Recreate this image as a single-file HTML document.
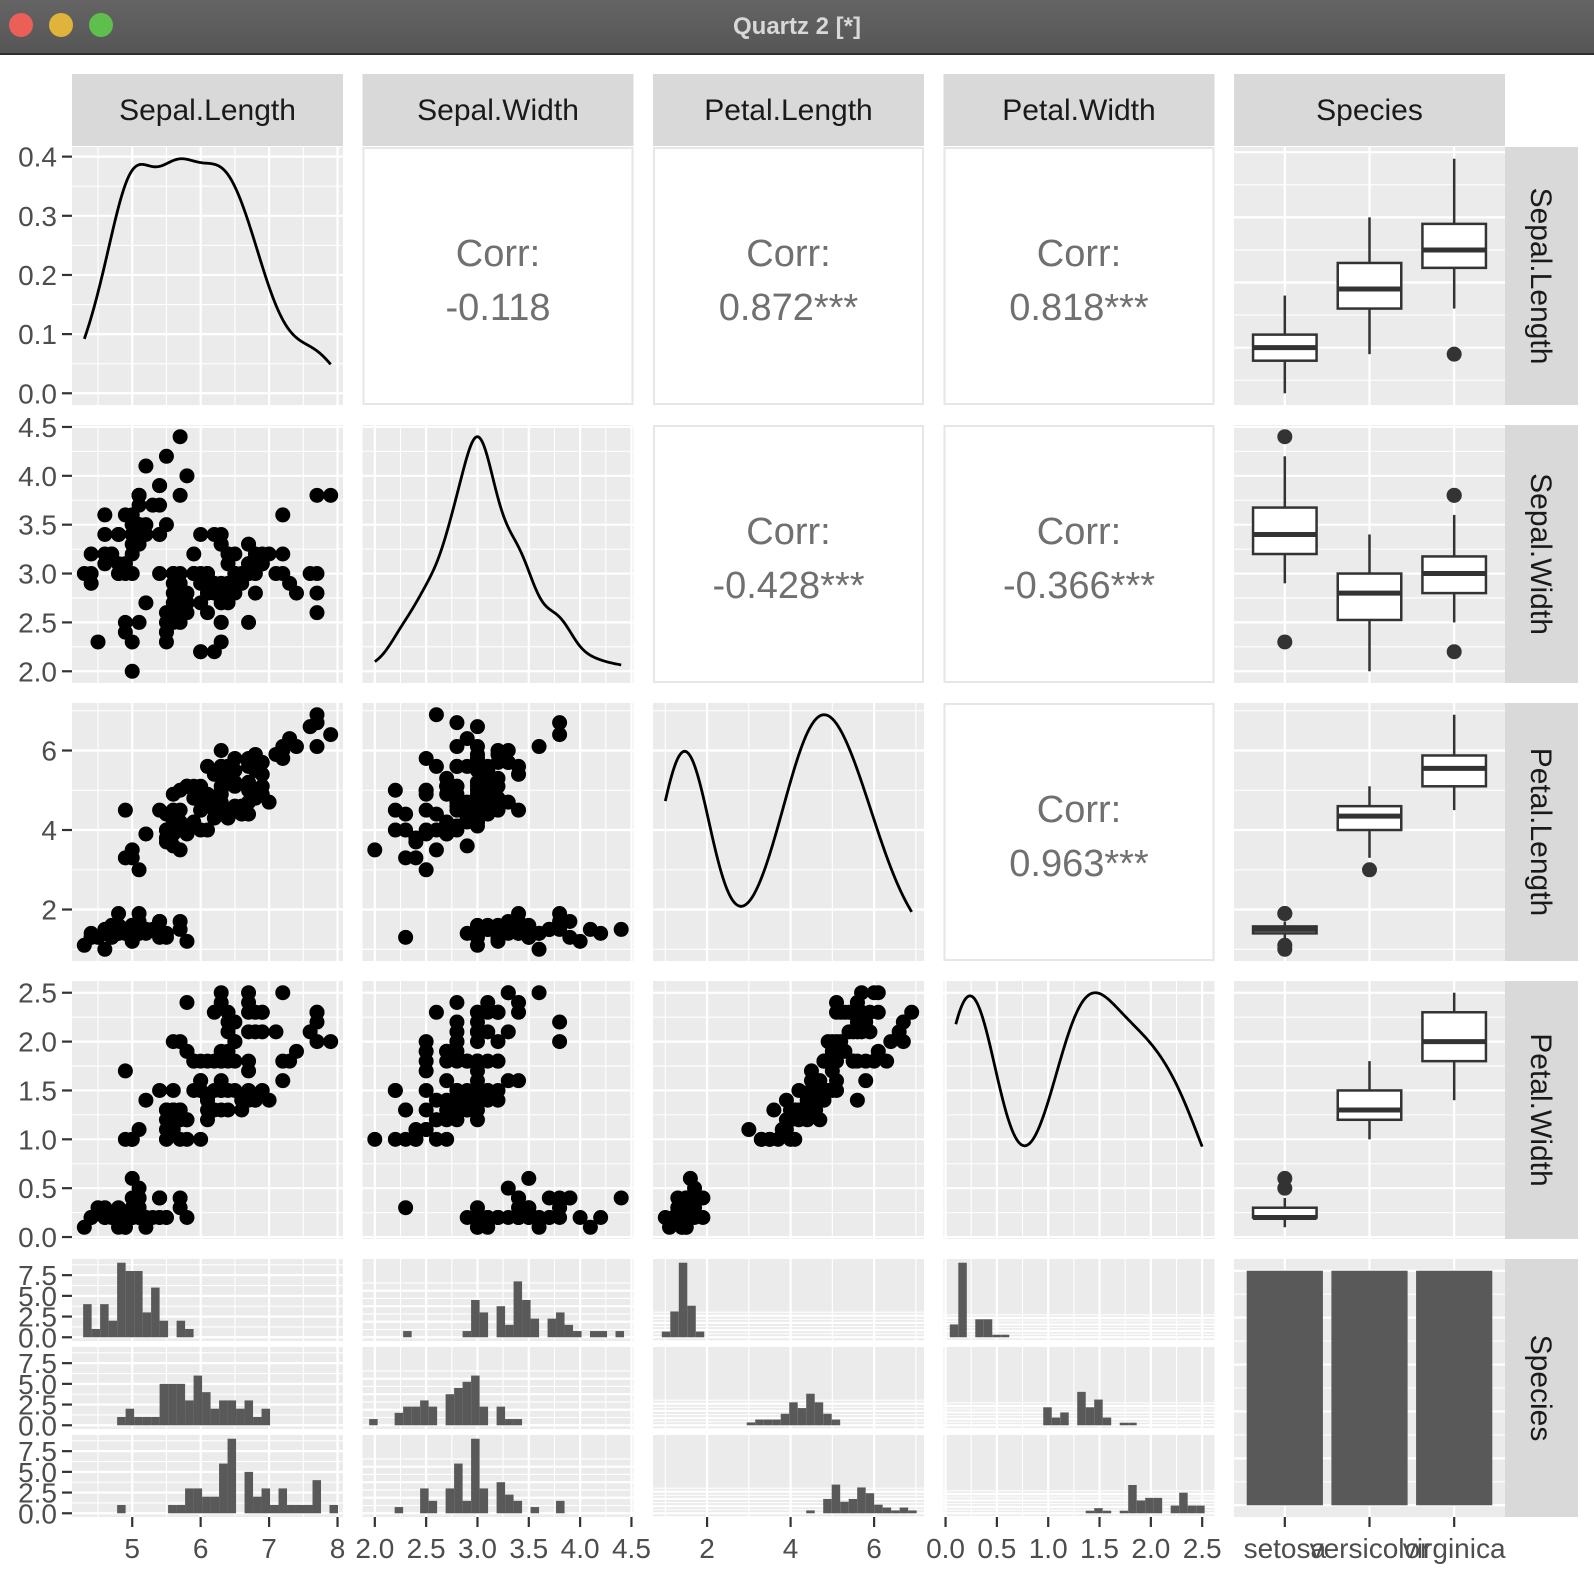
<!DOCTYPE html>
<html><head><meta charset="utf-8"><style>
body{margin:0;background:#fff;}
svg{display:block;font-family:"Liberation Sans",Arial,sans-serif;}
</style></head><body>
<svg id="chart" width="1594" height="1576" viewBox="0 0 1594 1576" xmlns="http://www.w3.org/2000/svg">
<defs><linearGradient id="tb" x1="0" y1="0" x2="0" y2="1"><stop offset="0" stop-color="#646464"/><stop offset="1" stop-color="#565656"/></linearGradient></defs>
<g>
<rect x="0" y="0" width="1594" height="53" fill="url(#tb)"/>
<rect x="0" y="53" width="1594" height="2" fill="#2e2e2e"/>
<circle cx="21" cy="25" r="12" fill="#ec5f57"/>
<circle cx="61" cy="25" r="12" fill="#e0b43a"/>
<circle cx="101" cy="25" r="12" fill="#5fbf4c"/>
<text x="797" y="34" text-anchor="middle" font-size="24" font-weight="bold" fill="#d8d8d8">Quartz 2 [*]</text>
</g>
<g id="plot"></g>
</svg>
<script>
const varNames = ["Sepal.Length","Sepal.Width","Petal.Length","Petal.Width","Species"];
const speciesNames = ["setosa","versicolor","virginica"];
const sepalLength = [5.1,4.9,4.7,4.6,5.0,5.4,4.6,5.0,4.4,4.9,5.4,4.8,4.8,4.3,5.8,5.7,5.4,5.1,5.7,5.1,5.4,5.1,4.6,5.1,4.8,5.0,5.0,5.2,5.2,4.7,4.8,5.4,5.2,5.5,4.9,5.0,5.5,4.9,4.4,5.1,5.0,4.5,4.4,5.0,5.1,4.8,5.1,4.6,5.3,5.0,
7.0,6.4,6.9,5.5,6.5,5.7,6.3,4.9,6.6,5.2,5.0,5.9,6.0,6.1,5.6,6.7,5.6,5.8,6.2,5.6,5.9,6.1,6.3,6.1,6.4,6.6,6.8,6.7,6.0,5.7,5.5,5.5,5.8,6.0,5.4,6.0,6.7,6.3,5.6,5.5,5.5,6.1,5.8,5.0,5.6,5.7,5.7,6.2,5.1,5.7,
6.3,5.8,7.1,6.3,6.5,7.6,4.9,7.3,6.7,7.2,6.5,6.4,6.8,5.7,5.8,6.4,6.5,7.7,7.7,6.0,6.9,5.6,7.7,6.3,6.7,7.2,6.2,6.1,6.4,7.2,7.4,7.9,6.4,6.3,6.1,7.7,6.3,6.4,6.0,6.9,6.7,6.9,5.8,6.8,6.7,6.7,6.3,6.5,6.2,5.9];
const sepalWidth = [3.5,3.0,3.2,3.1,3.6,3.9,3.4,3.4,2.9,3.1,3.7,3.4,3.0,3.0,4.0,4.4,3.9,3.5,3.8,3.8,3.4,3.7,3.6,3.3,3.4,3.0,3.4,3.5,3.4,3.2,3.1,3.4,4.1,4.2,3.1,3.2,3.5,3.6,3.0,3.4,3.5,2.3,3.2,3.5,3.8,3.0,3.8,3.2,3.7,3.3,
3.2,3.2,3.1,2.3,2.8,2.8,3.3,2.4,2.9,2.7,2.0,3.0,2.2,2.9,2.9,3.1,3.0,2.7,2.2,2.5,3.2,2.8,2.5,2.8,2.9,3.0,2.8,3.0,2.9,2.6,2.4,2.4,2.7,2.7,3.0,3.4,3.1,2.3,3.0,2.5,2.6,3.0,2.6,2.3,2.7,3.0,2.9,2.9,2.5,2.8,
3.3,2.7,3.0,2.9,3.0,3.0,2.5,2.9,2.5,3.6,3.2,2.7,3.0,2.5,2.8,3.2,3.0,3.8,2.6,2.2,3.2,2.8,2.8,2.7,3.3,3.2,2.8,3.0,2.8,3.0,2.8,3.8,2.8,2.8,2.6,3.0,3.4,3.1,3.0,3.1,3.1,3.1,2.7,3.2,3.3,3.0,2.5,3.0,3.4,3.0];
const petalLength = [1.4,1.4,1.3,1.5,1.4,1.7,1.4,1.5,1.4,1.5,1.5,1.6,1.4,1.1,1.2,1.5,1.3,1.4,1.7,1.5,1.7,1.5,1.0,1.7,1.9,1.6,1.6,1.5,1.4,1.6,1.6,1.5,1.5,1.4,1.5,1.2,1.3,1.4,1.3,1.5,1.3,1.3,1.3,1.6,1.9,1.4,1.6,1.4,1.5,1.4,
4.7,4.5,4.9,4.0,4.6,4.5,4.7,3.3,4.6,3.9,3.5,4.2,4.0,4.7,3.6,4.4,4.5,4.1,4.5,3.9,4.8,4.0,4.9,4.7,4.3,4.4,4.8,5.0,4.5,3.5,3.8,3.7,3.9,5.1,4.5,4.5,4.7,4.4,4.1,4.0,4.4,4.6,4.0,3.3,4.2,4.2,4.2,4.3,3.0,4.1,
6.0,5.1,5.9,5.6,5.8,6.6,4.5,6.3,5.8,6.1,5.1,5.3,5.5,5.0,5.1,5.3,5.5,6.7,6.9,5.0,5.7,4.9,6.7,4.9,5.7,6.0,4.8,4.9,5.6,5.8,6.1,6.4,5.6,5.1,5.6,6.1,5.6,5.5,4.8,5.4,5.6,5.1,5.1,5.9,5.7,5.2,5.0,5.2,5.4,5.1];
const petalWidth = [0.2,0.2,0.2,0.2,0.2,0.4,0.3,0.2,0.2,0.1,0.2,0.2,0.1,0.1,0.2,0.4,0.4,0.3,0.3,0.3,0.2,0.4,0.2,0.5,0.2,0.2,0.4,0.2,0.2,0.2,0.2,0.4,0.1,0.2,0.2,0.2,0.2,0.1,0.2,0.2,0.3,0.3,0.2,0.6,0.4,0.3,0.2,0.2,0.2,0.2,
1.4,1.5,1.5,1.3,1.5,1.3,1.6,1.0,1.3,1.4,1.0,1.5,1.0,1.4,1.3,1.4,1.5,1.0,1.5,1.1,1.8,1.3,1.5,1.2,1.3,1.4,1.4,1.7,1.5,1.0,1.1,1.0,1.2,1.6,1.5,1.6,1.5,1.3,1.3,1.3,1.2,1.4,1.2,1.0,1.3,1.2,1.3,1.3,1.1,1.3,
2.5,1.9,2.1,1.8,2.2,2.1,1.7,1.8,1.8,2.5,2.0,1.9,2.1,2.0,2.4,2.3,1.8,2.2,2.3,1.5,2.3,2.0,2.0,1.8,2.1,1.8,1.8,1.8,2.1,1.6,1.9,2.0,2.2,1.5,1.4,2.3,2.4,1.8,1.8,2.1,2.4,2.3,1.9,2.3,2.5,2.3,1.9,2.0,2.3,1.8];
const corrLabels = [["","-0.118","0.872***","0.818***"],["","","-0.428***","-0.366***"],["","","","0.963***"]];
const tickLabels = [["5","6","7","8"],["2.0","2.5","3.0","3.5","4.0","4.5"],["2","4","6"],["0.0","0.5","1.0","1.5","2.0","2.5"]];
const tickValues = [[5,6,7,8],[2,2.5,3,3.5,4,4.5],[2,4,6],[0,0.5,1,1.5,2,2.5]];
const densityTicks = [0,0.1,0.2,0.3,0.4];
const densityTickLabels = ["0.0","0.1","0.2","0.3","0.4"];
const countTicks = [0,2.5,5,7.5];
const countTickLabels = ["0.0","2.5","5.0","7.5"];
const speciesCounts = [50,50,50];

const vars = [sepalLength, sepalWidth, petalLength, petalWidth];
const NS = "http://www.w3.org/2000/svg";
const root = document.getElementById("plot");
const X0 = 72, PW_ = 271, GX = 290.5, Y0 = 147, PH = 258, GY = 278;
const colL = i => X0 + i*GX, rowT = j => Y0 + j*GY;
const GREY="#ebebeb", DARK="#333333", LAB="#4d4d4d";

function mk(tag, attrs, parent){const e=document.createElementNS(NS,tag);for(const k in attrs)e.setAttribute(k,attrs[k]);(parent||root).appendChild(e);return e;}
function contScale(data,a,b){const lo=Math.min(...data),hi=Math.max(...data),r=hi-lo;const d0=lo-0.05*r,d1=hi+0.05*r;const f=v=>a+(v-d0)/(d1-d0)*(b-a);f.d0=d0;f.d1=d1;return f;}
function rangeScale(lo,hi,a,b){const r=hi-lo;const d0=lo-0.05*r,d1=hi+0.05*r;const f=v=>a+(v-d0)/(d1-d0)*(b-a);f.d0=d0;f.d1=d1;return f;}
function minorsOf(maj,sc){const st=maj[1]-maj[0];const m=[maj[0]-st/2];maj.forEach(v=>m.push(v+st/2));return m.filter(v=>v>=Math.min(sc.d0,sc.d1)&&v<=Math.max(sc.d0,sc.d1));}
function inDom(vals,sc){return vals.filter(v=>v>=Math.min(sc.d0,sc.d1)-1e-9&&v<=Math.max(sc.d0,sc.d1)+1e-9);}
function panelBg(x,y,w,h,g){const r=mk("rect",{x:x,y:y,width:w,height:h,fill:GREY},g);}
function hGrid(g,sc,maj,x,w){minorsOf(maj,sc).forEach(v=>mk("line",{x1:x,x2:x+w,y1:sc(v),y2:sc(v),stroke:"#fff","stroke-width":1.1},g));inDom(maj,sc).forEach(v=>mk("line",{x1:x,x2:x+w,y1:sc(v),y2:sc(v),stroke:"#fff","stroke-width":2.2},g));}
function vGrid(g,sc,maj,y,h){minorsOf(maj,sc).forEach(v=>mk("line",{y1:y,y2:y+h,x1:sc(v),x2:sc(v),stroke:"#fff","stroke-width":1.1},g));inDom(maj,sc).forEach(v=>mk("line",{y1:y,y2:y+h,x1:sc(v),x2:sc(v),stroke:"#fff","stroke-width":2.2},g));}
function quant(s,p){const h=(s.length-1)*p,l=Math.floor(h);return s[l]+(h-l)*((s[Math.min(l+1,s.length-1)])-s[l]);}
function kde(d){const n=d.length,m=d.reduce((a,b)=>a+b)/n;const sd=Math.sqrt(d.reduce((a,b)=>a+(b-m)*(b-m),0)/(n-1));const s=[...d].sort((a,b)=>a-b);const iqr=quant(s,0.75)-quant(s,0.25);const bw=0.9*Math.min(sd,iqr/1.34)*Math.pow(n,-0.2);const lo=s[0],hi=s[n-1];const pts=[];for(let i=0;i<=200;i++){const x=lo+(hi-lo)*i/200;let y=0;for(const v of d){const z=(x-v)/bw;y+=Math.exp(-0.5*z*z);}pts.push([x,y/(n*bw*Math.sqrt(2*Math.PI))]);}return pts;}
function groupOf(arr,k){return arr.slice(k*50,k*50+50);}

const xScales = vars.map((d,i)=>contScale(d,colL(i),colL(i)+PW_));
const yScales = vars.map((d,j)=>contScale(d,rowT(j)+PH,rowT(j)));
const spX = i => k => colL(i)+(k+0.6)*PW_/3.2;

// strips
varNames.forEach((nm,i)=>{const g=mk("g",{});
mk("rect",{x:colL(i),y:74,width:PW_,height:72,fill:"#d9d9d9"},g);const t=mk("text",{x:colL(i)+PW_/2,y:120,"text-anchor":"middle","font-size":30,fill:"#1a1a1a"},g);t.textContent=nm;
const g2=mk("g",{});
mk("rect",{x:1505,y:rowT(i),width:73,height:PH,fill:"#d9d9d9"},g2);const cy=rowT(i)+PH/2;const t2=mk("text",{x:1531,y:cy,"text-anchor":"middle","font-size":30,fill:"#1a1a1a",transform:`rotate(90 1531 ${cy})`},g2);t2.textContent=nm;});

// panels
for(let j=0;j<5;j++){for(let i=0;i<5;i++){
 const g=mk("g",{});
 const x=colL(i),y=rowT(j);
 if(j<4&&i<4&&i>j){ // correlation
  mk("rect",{x:x+1,y:y+1,width:PW_-2,height:PH-2,fill:"#fff",stroke:"#e6e6e6","stroke-width":2},g);
  const t1=mk("text",{x:x+PW_/2,y:y+PH/2-10,"text-anchor":"middle","font-size":38,fill:"#707070"},g);t1.textContent="Corr:";
  
  const t2=mk("text",{x:x+PW_/2,y:y+PH/2+44,"text-anchor":"middle","font-size":38,fill:"#707070"},g);t2.textContent=corrLabels[j][i];
  
 } else if(j<4&&i===j){ // density
  panelBg(x,y,PW_,PH,g);
  const pts=kde(vars[i]);const mx=Math.max(...pts.map(p=>p[1]));
  const dy=rangeScale(0,mx,y+PH,y);
  vGrid(g,xScales[i],tickValues[i],y,PH);
  if(j===0) hGrid(g,dy,densityTicks,x,PW_); else hGrid(g,yScales[j],tickValues[j],x,PW_);
  const p=mk("path",{d:pts.map((q,k)=>(k?"L":"M")+xScales[i](q[0]).toFixed(2)+","+dy(q[1]).toFixed(2)).join(""),fill:"none",stroke:"#000","stroke-width":2.8},g);
  
  if(j===0){densityTicks.forEach((v,k)=>{mk("line",{x1:62,x2:72,y1:dy(v),y2:dy(v),stroke:DARK,"stroke-width":2.2},g);const t=mk("text",{x:57,y:dy(v)+10,"text-anchor":"end","font-size":28,fill:LAB},g);t.textContent=densityTickLabels[k];});}
 } else if(j<4&&i<4){ // scatter
  panelBg(x,y,PW_,PH,g);
  vGrid(g,xScales[i],tickValues[i],y,PH);hGrid(g,yScales[j],tickValues[j],x,PW_);
  for(let n=0;n<150;n++){const c=mk("circle",{cx:xScales[i](vars[i][n]),cy:yScales[j](vars[j][n]),r:7.5,fill:"#000"},g);}
 } else if(j<4&&i===4){ // boxplot
  panelBg(x,y,PW_,PH,g);
  [0,1,2].forEach(k=>mk("line",{x1:spX(4)(k),x2:spX(4)(k),y1:y,y2:y+PH,stroke:"#fff","stroke-width":2.2},g));
  hGrid(g,yScales[j],tickValues[j],x,PW_);
  const ys=yScales[j];
  for(let k=0;k<3;k++){const s=groupOf(vars[j],k).sort((a,b)=>a-b);const q1=quant(s,.25),q2=quant(s,.5),q3=quant(s,.75),iq=q3-q1;
   const inr=s.filter(v=>v>=q1-1.5*iq&&v<=q3+1.5*iq);const lo=inr[0],hi=inr[inr.length-1];const cx=spX(4)(k),hw=0.375*PW_/3.2;
   const bg=mk("g",{},g);
   mk("line",{x1:cx,x2:cx,y1:ys(hi),y2:ys(q3),stroke:DARK,"stroke-width":2.5},bg);
   mk("line",{x1:cx,x2:cx,y1:ys(lo),y2:ys(q1),stroke:DARK,"stroke-width":2.5},bg);
   mk("rect",{x:cx-hw,y:ys(q3),width:2*hw,height:Math.max(ys(q1)-ys(q3),0.5),fill:"#fff",stroke:DARK,"stroke-width":2.5},bg);
   mk("line",{x1:cx-hw,x2:cx+hw,y1:ys(q2),y2:ys(q2),stroke:DARK,"stroke-width":5},bg);
   s.filter(v=>v<lo||v>hi).forEach(v=>{const o=mk("circle",{cx:cx,cy:ys(v),r:7.5,fill:DARK},bg);});}
 } else if(j===4&&i<4){ // faceted histograms
  const d=vars[i];const lo=Math.min(...d),hi=Math.max(...d),w=(hi-lo)/29;
  const start=w/2+Math.floor((lo-w/2)/w)*w;
  const counts=[0,1,2].map(k=>{const c=new Array(32).fill(0);groupOf(d,k).forEach(v=>{let b=Math.ceil((v-start)/w-1e-7)-1;b=Math.max(0,Math.min(31,b));c[b]++;});return c;});
  const mx=Math.max(...counts.flat());
  const sh=82,sg=(PH-3*sh)/2;
  for(let k=0;k<3;k++){const sy=y+k*(sh+sg);const ys=rangeScale(0,mx,sy+sh,sy);
   panelBg(x,sy,PW_,sh,g);vGrid(g,xScales[i],tickValues[i],sy,sh);hGrid(g,ys,countTicks,x,PW_);
   counts[k].forEach((c,b)=>{if(c>0){const r=mk("rect",{x:xScales[i](start+b*w),y:ys(c),width:xScales[i](start+(b+1)*w)-xScales[i](start+b*w),height:ys(0)-ys(c),fill:"#595959"},g);}});
   if(i===0){countTicks.forEach((v,q)=>{mk("line",{x1:62,x2:72,y1:ys(v),y2:ys(v),stroke:DARK,"stroke-width":2.2},g);const t=mk("text",{x:57,y:ys(v)+10,"text-anchor":"end","font-size":28,fill:LAB},g);t.textContent=countTickLabels[q];});}
  }
 } else { // bar chart species
  panelBg(x,y,PW_,PH,g);
  const ys=rangeScale(0,Math.max(...speciesCounts),y+PH,y);
  [0,1,2].forEach(k=>mk("line",{x1:spX(4)(k),x2:spX(4)(k),y1:y,y2:y+PH,stroke:"#fff","stroke-width":2.2},g));
  hGrid(g,ys,[0,10,20,30,40,50],x,PW_);
  speciesCounts.forEach((c,k)=>{const hw=0.45*PW_/3.2;const r=mk("rect",{x:spX(4)(k)-hw,y:ys(c),width:2*hw,height:ys(0)-ys(c),fill:"#595959"},g);});
 }
}}

// left axes rows 2-4, bottom axes
for(let j=1;j<4;j++){const g=mk("g",{});
 tickValues[j].forEach((v,k)=>{const yy=yScales[j](v);mk("line",{x1:62,x2:72,y1:yy,y2:yy,stroke:DARK,"stroke-width":2.2},g);const t=mk("text",{x:57,y:yy+10,"text-anchor":"end","font-size":28,fill:LAB},g);t.textContent=tickLabels[j][k];});}
for(let i=0;i<4;i++){const g=mk("g",{});
 tickValues[i].forEach((v,k)=>{const xx=xScales[i](v);mk("line",{x1:xx,x2:xx,y1:1517,y2:1527,stroke:DARK,"stroke-width":2.2},g);const t=mk("text",{x:xx,y:1558,"text-anchor":"middle","font-size":28,fill:LAB},g);t.textContent=tickLabels[i][k];});}
{const g=mk("g",{});
 speciesNames.forEach((s,k)=>{const xx=spX(4)(k);mk("line",{x1:xx,x2:xx,y1:1517,y2:1527,stroke:DARK,"stroke-width":2.2},g);const t=mk("text",{x:xx,y:1558,"text-anchor":"middle","font-size":28,fill:LAB},g);t.textContent=s;});}
</script>
</body></html>
